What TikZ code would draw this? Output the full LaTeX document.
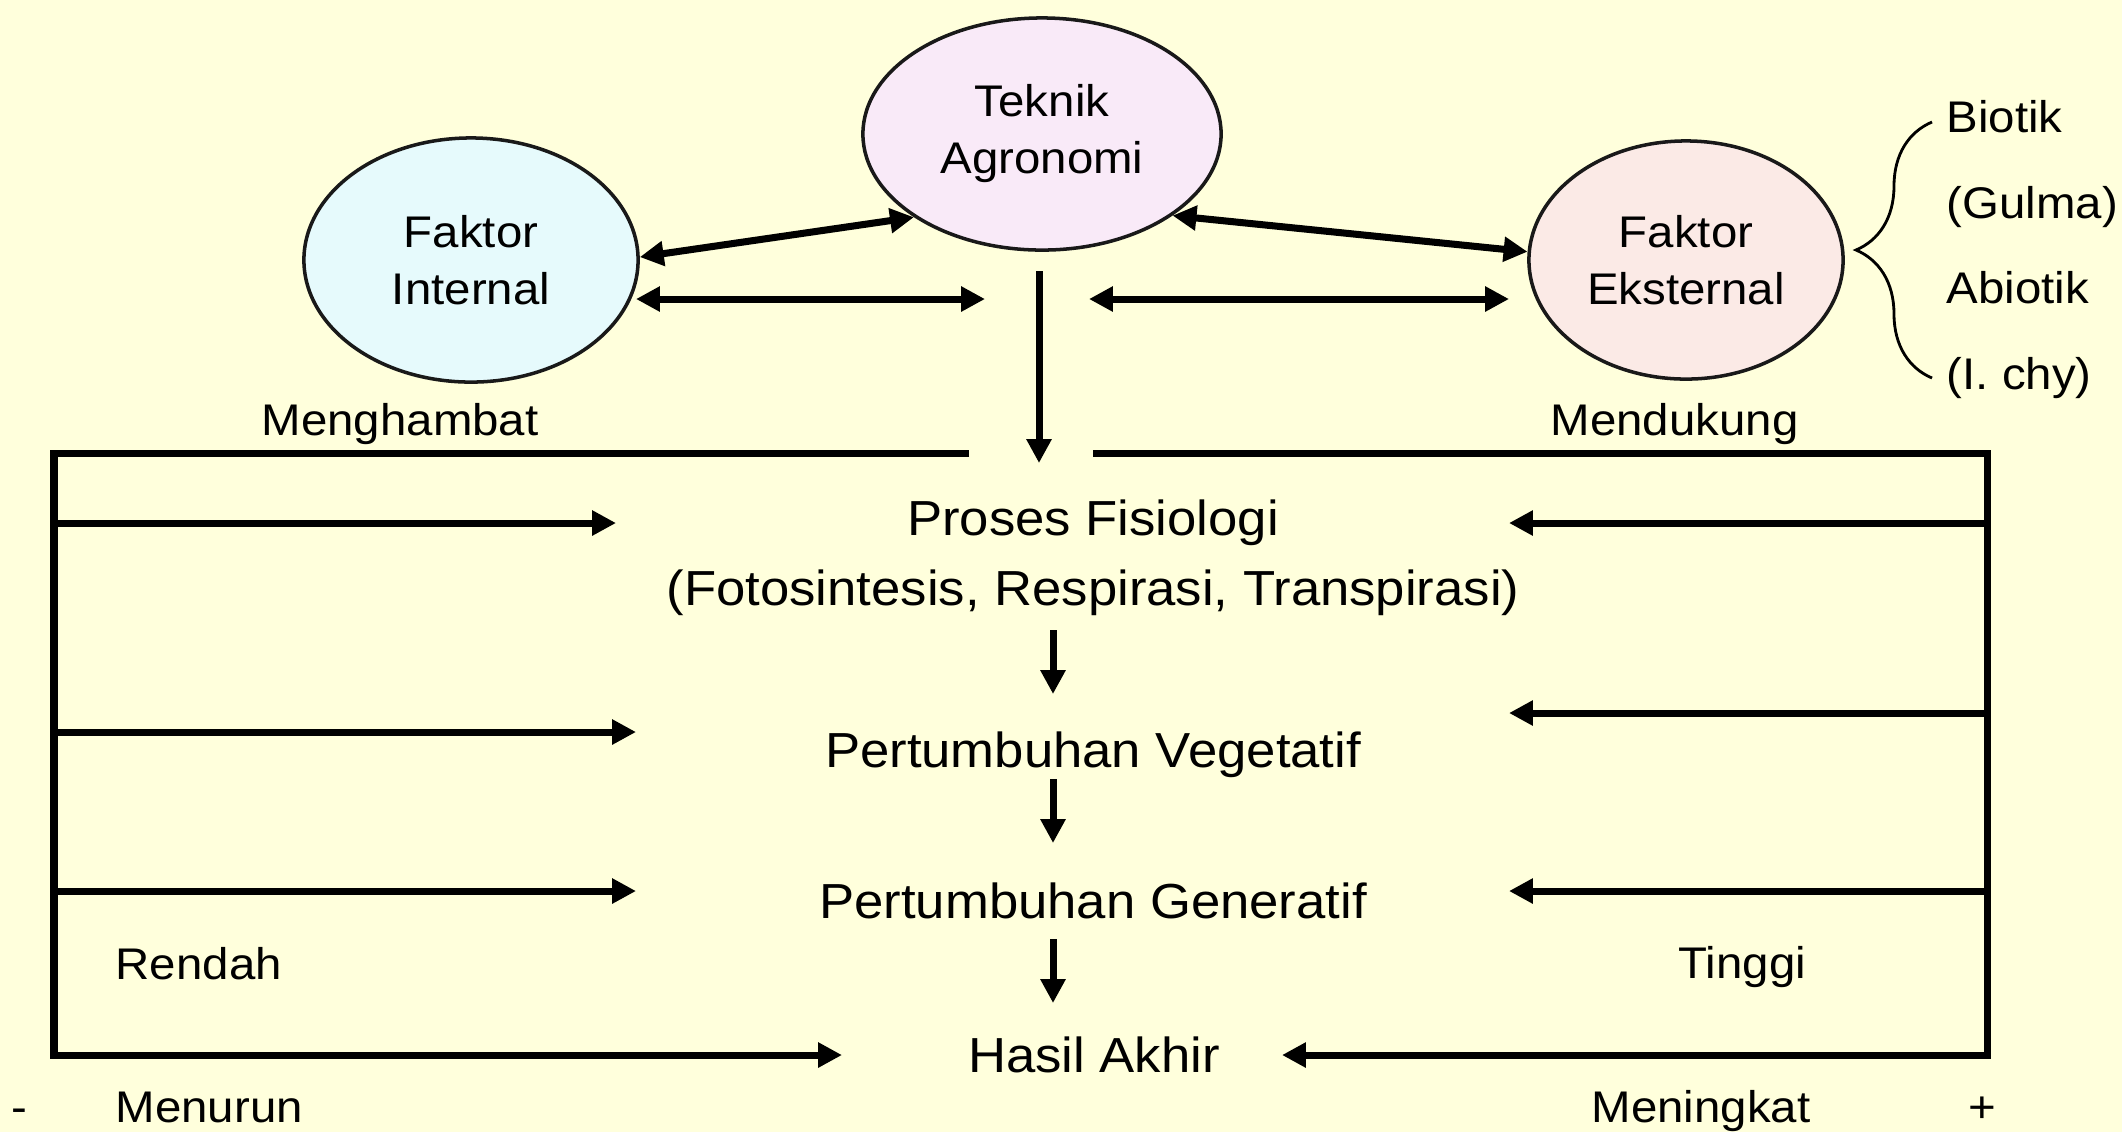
\documentclass[tikz,border=0pt]{standalone}
\usepackage{fontspec}
\setmainfont[FakeStretch=1.07]{Liberation Sans}
\usetikzlibrary{arrows.meta,shapes.geometric,decorations.pathreplacing}
\definecolor{bgc}{HTML}{FFFFDC}
\definecolor{intc}{HTML}{E6FAFC}
\definecolor{tekc}{HTML}{F9EAF8}
\definecolor{ekc}{HTML}{FBEAE6}
\begin{document}
\begin{tikzpicture}[x=0.01cm,y=-0.01cm,
  conn/.style={line width=2pt},
  arr/.style={line width=2pt,-{Triangle[length=6.8pt,width=6.8pt]}},
  darr/.style={line width=2pt,{Triangle[length=6.8pt,width=6.8pt]}-{Triangle[length=6.8pt,width=6.8pt]}},
  oval/.style={ellipse, draw=black!90, line width=1pt, inner sep=0pt, align=center,
    font=\fontsize{12.6}{16.2}\selectfont},
  main/.style={anchor=base, inner sep=0pt, font=\fontsize{14}{17}\selectfont},
  lab/.style={anchor=base west, inner sep=0pt, font=\fontsize{12.6}{15}\selectfont}]
\fill[bgc] (0,0) rectangle (2122,1132);
\useasboundingbox (0,0) rectangle (2122,1132);

% ellipses
\node[oval, fill=intc, minimum width=3.34cm, minimum height=2.44cm] (int) at (471,260) {Faktor\\Internal};
\node[oval, fill=tekc, minimum width=3.58cm, minimum height=2.32cm] (tek) at (1042,134) {Teknik\\Agronomi};
\node[oval, fill=ekc, minimum width=3.14cm, minimum height=2.38cm] (eks) at (1686,260) {Faktor\\Eksternal};

% right list and brace
\node[lab] (bio) at (1946,132) {Biotik};
\node[lab] (gul) at (1946,218) {(Gulma)};
\node[lab] (abi) at (1946,303) {Abiotik};
\node[lab] (ich) at (1946,389) {(I. chy)};
\coordinate (brb) at (1932,378);
\coordinate (brt) at (1932,122);
\draw[line width=0.8pt, decorate, decoration={brace, amplitude=0.76cm}] (brb) -- (brt);

% central texts
\node[main] (p1) at (1093,535) {Proses Fisiologi};
\node[main] (p2) at (1093,605) {(Fotosintesis, Respirasi, Transpirasi)};
\node[main] (veg) at (1093,767) {Pertumbuhan Vegetatif};
\node[main] (gen) at (1093,918) {Pertumbuhan Generatif};
\node[main] (has) at (1094,1072) {Hasil Akhir};

% labels
\node[lab] (mgh) at (261,435) {Menghambat};
\node[lab] (mdk) at (1550,435) {Mendukung};
\node[lab] (ren) at (115,979) {Rendah};
\node[lab] (tin) at (1678,978) {Tinggi};
\node[lab] (mnr) at (115,1122) {Menurun};
\node[lab] (mnk) at (1591,1122) {Meningkat};
\node[lab] (mns) at (11,1122) {-};
\node[lab] (pls) at (1968,1122) {+};

% ellipse connectors
\draw[darr] (int.1) -- (tek.213);
\draw[darr] (tek.328) -- (eks.177);
\coordinate (h1a) at (636,299);
\coordinate (h1b) at (985,299);
\coordinate (h2a) at (1089,299);
\coordinate (h2b) at (1509,299);
\draw[darr] (h1a) -- (h1b);
\draw[darr] (h2a) -- (h2b);
\coordinate (v1) at (1039,271);
\coordinate (v2) at (1039,463);
\draw[arr] (v1) -- (v2);

% brackets
\coordinate (tl) at (969,453);
\coordinate (cl) at (54,453);
\coordinate (bl) at (54,1055);
\coordinate (lt1) at (616,523);
\coordinate (lt2) at (636,732);
\coordinate (lt3) at (636,891);
\coordinate (lt4) at (842,1055);
\draw[arr] (tl) -- (cl) -- (bl) -- (lt4);
\draw[arr] (cl |- lt1) -- (lt1);
\draw[arr] (cl |- lt2) -- (lt2);
\draw[arr] (cl |- lt3) -- (lt3);

\coordinate (tr) at (1093,453);
\coordinate (cr) at (1987,453);
\coordinate (br) at (1987,1055);
\coordinate (rt1) at (1509,523);
\coordinate (rt2) at (1509,713);
\coordinate (rt3) at (1509,891);
\coordinate (rt4) at (1282,1055);
\draw[arr] (tr) -- (cr) -- (br) -- (rt4);
\draw[arr] (cr |- rt1) -- (rt1);
\draw[arr] (cr |- rt2) -- (rt2);
\draw[arr] (cr |- rt3) -- (rt3);

% down arrows
\coordinate (a1s) at (1053,630);
\coordinate (a1e) at (1053,694);
\coordinate (a2s) at (1053,779);
\coordinate (a2e) at (1053,843);
\coordinate (a3s) at (1053,939);
\coordinate (a3e) at (1053,1003);
\draw[arr] (a1s) -- (a1e);
\draw[arr] (a2s) -- (a2e);
\draw[arr] (a3s) -- (a3e);
\end{tikzpicture}
\end{document}
